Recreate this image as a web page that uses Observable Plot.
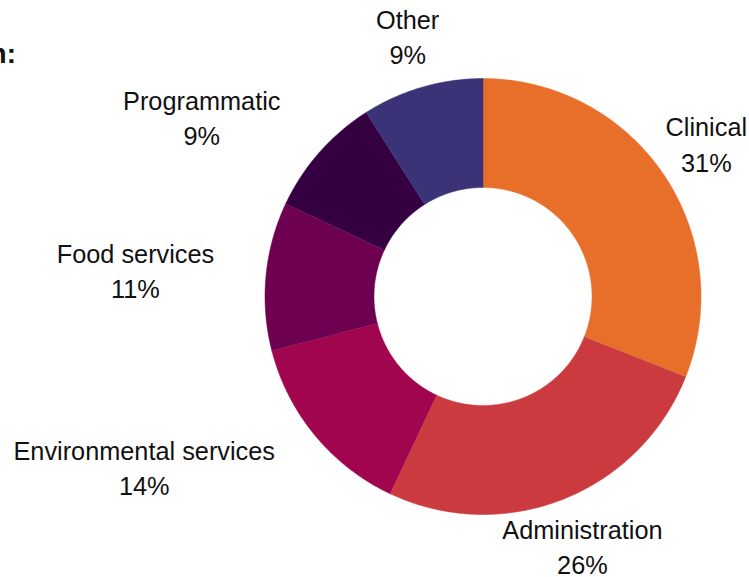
<!DOCTYPE html>
<html>
<head>
<meta charset="utf-8">
<script src="https://cdn.jsdelivr.net/npm/d3@7"></script>
<script src="https://cdn.jsdelivr.net/npm/@observablehq/plot@0.6"></script>
<style>
  html, body { margin: 0; padding: 0; background: #fff; }
  body { width: 749px; height: 577px; position: relative; overflow: hidden; font-family: "Liberation Sans", Arial, sans-serif; }
  #title { position: absolute; right: 733px; top: 40px; white-space: nowrap; font-weight: bold; font-size: 28px; line-height: 28px; color: #111; }
  #chart { position: absolute; left: 0; top: 0; }
</style>
</head>
<body>
<div id="title">Staff by function:</div>
<div id="chart"></div>
<script>
// Data
const categories = ["Clinical", "Administration", "Environmental services", "Food services", "Programmatic", "Other"];
const shares = [31, 26, 14, 11, 9, 9];
const colors = ["#E76F2A", "#CB3A3F", "#A1054E", "#6D0050", "#350042", "#3B3378"];

// Layout
const W = 749, H = 577;
const cx = 482.5, cy = 296, R = 218, r0 = 109, RL = 270;
const fontSize = 25.3;

const data = categories.map((c, i) => ({category: c, value: shares[i], color: colors[i]}));
const arcs = d3.pie().sort(null).value(d => d.value)(data);

const pt = (a, rad) => [cx + rad * Math.sin(a), cy - rad * Math.cos(a)];

// Slice polygons derived from the pie layout
const polys = arcs.map(a => {
  const n = Math.max(2, Math.ceil((a.endAngle - a.startAngle) / (Math.PI / 360)));
  const pts = [];
  for (let k = 0; k <= n; k++) {
    const t = a.startAngle + (a.endAngle - a.startAngle) * k / n;
    const [x, y] = pt(t, R);
    pts.push({x, y});
  }
  for (let k = n; k >= 0; k--) {
    const t = a.startAngle + (a.endAngle - a.startAngle) * k / n;
    const [x, y] = pt(t, r0);
    pts.push({x, y});
  }
  return {color: a.data.color, pts};
});

// Text measuring
const ctx = document.createElement("canvas").getContext("2d");
ctx.font = `${fontSize}px "Liberation Sans", Arial, sans-serif`;

const labels = arcs.map(a => {
  const mid = (a.startAngle + a.endAngle) / 2;
  const text = `${a.data.category}\n${Math.round(a.data.value)}%`;
  const w = Math.max(...text.split("\n").map(s => ctx.measureText(s).width));
  let [x, y] = pt(mid, RL);
  if (Math.sin(mid) < -0.5) x -= w / 2;
  return {x, y, text};
});

const marks = polys.map(p => Plot.line(p.pts, {x: "x", y: "y", fill: p.color, stroke: p.color, strokeWidth: 0.5, curve: "linear"}));
marks.push(Plot.text(labels, {
  x: "x", y: "y", text: "text", dy: -2,
  fontSize, lineHeight: 1.39, textAnchor: "middle", lineAnchor: "middle", fill: "#111"
}));

const chart = Plot.plot({
  width: W, height: H,
  margin: 0,
  x: {domain: [0, W], range: [0, W], axis: null},
  y: {domain: [0, H], range: [0, H], axis: null},
  style: {fontFamily: '"Liberation Sans", Arial, sans-serif', background: "transparent"},
  marks
});
document.getElementById("chart").appendChild(chart);
</script>
</body>
</html>
